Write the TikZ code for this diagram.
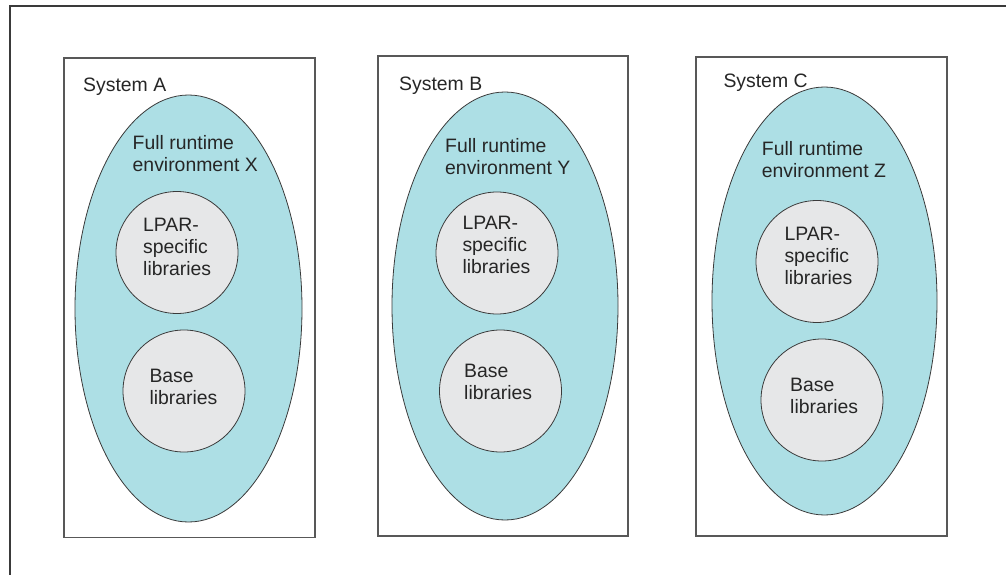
\documentclass[tikz,border=0pt]{standalone}
\usepackage{fontspec}
\setmainfont{Liberation Sans}
\usepackage{xcolor}
\usepackage{tikz}
\usetikzlibrary{shapes.geometric}

\definecolor{envfill}{HTML}{ADDFE5}
\definecolor{libfill}{HTML}{E6E7E8}
\definecolor{edge}{HTML}{3A3A3A}

\tikzset{
	sysbox/.style={draw=edge!85, line width=1.2pt, rectangle, inner sep=0},
	envellipse/.style={draw=edge, fill=envfill, line width=0.8pt, ellipse, inner sep=0},
	libcircle/.style={draw=edge, fill=libfill, line width=0.8pt, circle, inner sep=0, minimum size=122pt},
	lbl/.style={anchor=north west, inner sep=0, align=left, text=black!85, font=\fontsize{19.4}{22}\selectfont}
}

\begin{document}
\begin{tikzpicture}[x=1pt, y=-1pt]
	\useasboundingbox (0,0) rectangle (1006,575);
	\draw[edge, line width=1.3pt] (10,575) -- (10,6) -- (1006,6);
	
	% system A
	\node[sysbox, minimum width=251pt, minimum height=479.5pt] (sysA) at (189.5,297.75) {};
	\node[envellipse, minimum width=227pt, minimum height=427pt] (envA) at (188.5,308.5) {};
	\node[libcircle] (lparA) at (177,252.5) {};
	\node[libcircle] (baseA) at (184,391) {};
	\node[lbl] (sysAtext) at (83,77.3) {System A};
	\node[lbl] (envAtext) at (132.5,135) {Full runtime\\environment X};
	\node[lbl] (lparAtext) at (143,218.3) {LPAR-\\specific\\libraries};
	\node[lbl] (baseAtext) at (149.3,369.3) {Base\\libraries};
	
	% system B
	\node[sysbox, minimum width=250pt, minimum height=480pt] (sysB) at (503,296) {};
	\node[envellipse, minimum width=226pt, minimum height=428pt] (envB) at (505,306) {};
	\node[libcircle] (lparB) at (497,253) {};
	\node[libcircle] (baseB) at (500.5,391) {};
	\node[lbl] (sysBtext) at (399,76.7) {System B};
	\node[lbl] (envBtext) at (445,138.3) {Full runtime\\environment Y};
	\node[lbl] (lparBtext) at (462.3,215.7) {LPAR-\\specific\\libraries};
	\node[lbl] (baseBtext) at (464,364) {Base\\libraries};
	
	% system C
	\node[sysbox, minimum width=251pt, minimum height=479pt] (sysC) at (821.5,296.5) {};
	\node[envellipse, minimum width=225pt, minimum height=428pt] (envC) at (824.5,301) {};
	\node[libcircle] (lparC) at (817,261.5) {};
	\node[libcircle] (baseC) at (822,400) {};
	\node[lbl] (sysCtext) at (723.3,73.3) {System C};
	\node[lbl] (envCtext) at (761.7,141.7) {Full runtime\\environment Z};
	\node[lbl] (lparCtext) at (784.3,226.7) {LPAR-\\specific\\libraries};
	\node[lbl] (baseCtext) at (790,378.3) {Base\\libraries};
\end{tikzpicture}
\end{document}
